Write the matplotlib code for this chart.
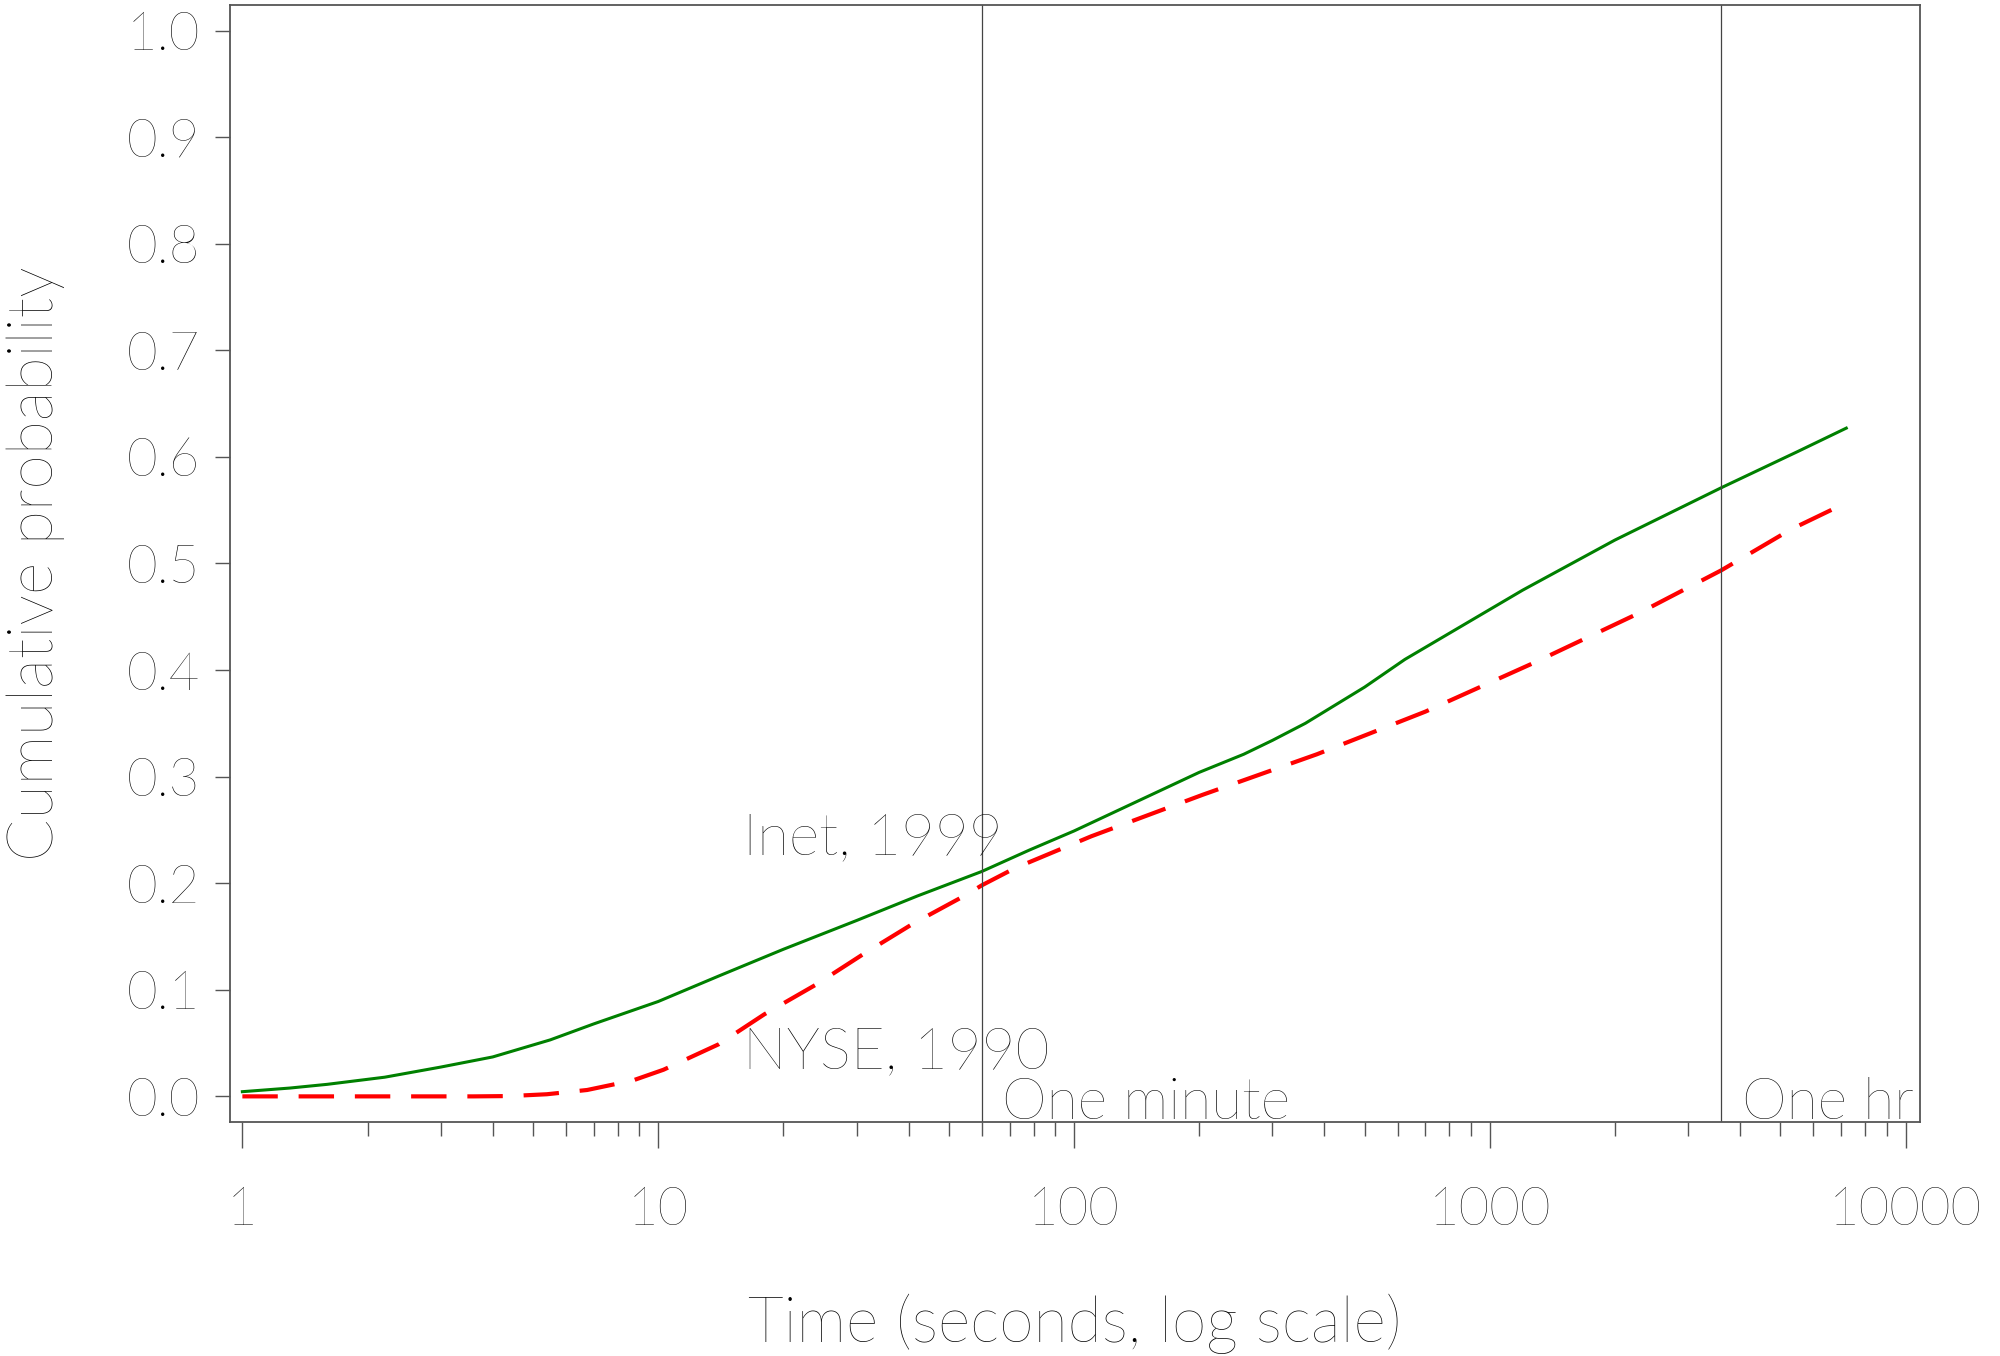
import matplotlib
matplotlib.use("Agg")
import matplotlib.pyplot as plt
from matplotlib.ticker import FixedLocator, NullFormatter

# Inet, 1999 (green solid)
inet_t = [1, 1.3, 1.6, 2.2, 3, 4, 5.5, 7, 10, 14, 20, 30, 42, 60, 78, 100,
          200, 256, 300, 360, 500, 625, 1200, 2000, 3600, 5500, 7200]
inet_p = [0.0044, 0.0078, 0.0113, 0.018, 0.0275, 0.037, 0.053, 0.068, 0.089,
          0.113, 0.138, 0.165, 0.188, 0.211, 0.231, 0.249, 0.304, 0.321, 0.334,
          0.350, 0.384, 0.410, 0.475, 0.522, 0.571, 0.605, 0.627]

# NYSE, 1990 (red dashed)
nyse_t = [1, 2, 3, 3.6, 4.4, 5.4, 6.75, 8.7, 10.3, 14, 18, 24, 31, 41, 55, 60,
          72, 110, 204, 384, 700, 1280, 2300, 3600, 5300, 7200]
nyse_p = [0, 0, 0, 0, 0.0003, 0.002, 0.006, 0.015, 0.025, 0.049, 0.077, 0.105,
          0.133, 0.162, 0.189, 0.198, 0.214, 0.244, 0.283, 0.321, 0.361, 0.407,
          0.454, 0.4935, 0.532, 0.557]

marks = [60, 3600]
mark_labels = ["One minute", "One hr"]
xticks = [1, 10, 100, 1000, 10000]
xtick_labels = ["1", "10", "100", "1000", "10000"]
yticks = [0.0, 0.1, 0.2, 0.3, 0.4, 0.5, 0.6, 0.7, 0.8, 0.9, 1.0]

plt.rcParams['font.family'] = ['Lato', 'DejaVu Sans']
plt.rcParams['font.weight'] = 'light'
txt = '#000000'
axc = '#555555'
fs = 38

fig = plt.figure(figsize=(20, 13.56), dpi=100)
ax = fig.add_axes([0.1148, 0.1726, 0.845, 0.8237])

ax.plot(inet_t, inet_p, color='green', lw=2.2)
ax.plot(nyse_t, nyse_p, color='red', lw=3.0, dashes=(8.5, 5))

for m, lab in zip(marks, mark_labels):
    ax.axvline(m, color='#444444', lw=0.9)
    ax.text(m * 1.12, -0.0216, lab, fontsize=41, color=txt, ha='left', va='baseline')

ax.text(16, 0.227, "Inet, 1999", fontsize=42, color=txt, ha='left', va='baseline')
ax.text(16, 0.026, "NYSE, 1990", fontsize=42, color=txt, ha='left', va='baseline')

ax.set_xscale('log')
ax.set_xlim(10 ** -0.0307, 10 ** 4.0337)
ax.set_ylim(-0.024, 1.024)

ax.xaxis.set_major_locator(FixedLocator(xticks))
ax.set_xticklabels(xtick_labels)
minors = [k * 10 ** d for d in range(4) for k in range(2, 10)]
ax.xaxis.set_minor_locator(FixedLocator(minors))
ax.xaxis.set_minor_formatter(NullFormatter())
ax.set_yticks(yticks)
ax.set_yticklabels([f"{v:.1f}" for v in yticks])

ax.tick_params(axis='x', which='major', length=19, width=1.0, color=axc,
               pad=27, labelsize=fs, labelcolor=txt)
ax.tick_params(axis='x', which='minor', length=10, width=1.0, color=axc)
ax.tick_params(axis='y', length=11, width=1.0, color=axc, pad=10,
               labelsize=fs, labelcolor=txt)

for s in ax.spines.values():
    s.set_color(axc)
    s.set_linewidth(1.3)

fig.text(0.5375, 0.0236, "Time (seconds, log scale)", fontsize=45, color=txt,
         ha='center', va='center')
fig.text(0.018, 0.584, "Cumulative probability", fontsize=45, color=txt,
         ha='center', va='center', rotation=90)

fig.savefig("out.png", dpi=100)
